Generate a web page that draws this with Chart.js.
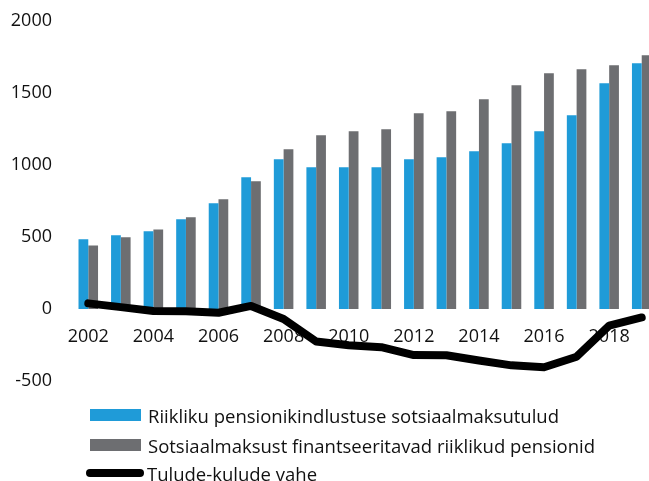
<!DOCTYPE html>
<html>
<head>
<meta charset="utf-8">
<script src="https://cdn.jsdelivr.net/npm/chart.js@4"></script>
<style>
  html, body { margin: 0; padding: 0; background: #fff; overflow: hidden; }
  #wrap { position: relative; width: 649px; height: 481px; overflow: hidden; }
  #chartBox { position: absolute; left: 0; top: -10px; width: 660px; height: 422px; }
  #legend { position: absolute; left: 86px; top: 400px; font-family: "Open Sans", sans-serif; font-size: 18.5px; color: #111; }
  .item { position: absolute; left: 0; height: 20px; display: flex; align-items: center; white-space: nowrap; }
  .box { width: 51px; height: 12px; margin-left: 4px; margin-right: 7px; }
  .ln { width: 58px; height: 8px; border-radius: 4px; background: #000; margin-right: 3px; }
</style>
</head>
<body>
<div id="wrap">
  <div id="chartBox"><canvas id="pensionChart" width="660" height="422"></canvas></div>
  <div id="legend"></div>
</div>
<script>
const years = ['2002','2003','2004','2005','2006','2007','2008','2009','2010','2011','2012','2013','2014','2015','2016','2017','2018','2019'];
const tulud = [484, 512, 540, 623, 734, 915, 1040, 984, 984, 984, 1040, 1053, 1095, 1150, 1234, 1345, 1567, 1706];
const pensionid = [442, 498, 553, 637, 762, 887, 1109, 1206, 1234, 1248, 1359, 1373, 1456, 1553, 1637, 1664, 1692, 1761];
const vahe = [40, 14, -13, -14, -25, 22, -69, -225, -250, -264, -319, -320, -356, -390, -403, -330, -115, -58];
const yTicks = [-500, 0, 500, 1000, 1500, 2000];

const labels = [
    'Riikliku pensionikindlustuse sotsiaalmaksutulud',
    'Sotsiaalmaksust finantseeritavad riiklikud pensionid',
    'Tulude-kulude vahe'
];
const blue = '#1f9bd8';
const gray = '#6d6e71';

const ctx = document.getElementById('pensionChart').getContext('2d');

new Chart(ctx, {
    type: 'bar',
    data: {
        labels: years,
        datasets: [
            {
                type: 'line',
                label: labels[2],
                data: vahe,
                borderColor: '#000',
                borderWidth: 8,
                borderCapStyle: 'round',
                borderJoinStyle: 'round',
                tension: 0,
                pointRadius: 0,
                fill: false,
                order: 0
            },
            {
                label: labels[0],
                data: tulud,
                backgroundColor: blue,
                categoryPercentage: 0.6,
                barPercentage: 1,
                order: 1
            },
            {
                label: labels[1],
                data: pensionid,
                backgroundColor: gray,
                categoryPercentage: 0.6,
                barPercentage: 1,
                order: 1
            }
        ]
    },
    options: {
        responsive: false,
        animation: false,
        layout: { padding: { top: 10, bottom: 8, left: 0, right: 2 } },
        plugins: {
            legend: { display: false },
            tooltip: { enabled: false }
        },
        scales: {
            x: {
                position: { y: 0 },
                grid: { display: false, drawTicks: false },
                border: { display: false },
                afterFit: function (scale) { scale.height = 0; },
                ticks: {
                    autoSkip: false,
                    maxRotation: 0,
                    padding: 17,
                    color: '#111',
                    font: { family: 'Open Sans', size: 18 },
                    callback: function (val, i) { return i % 2 === 0 ? years[i] : ''; }
                }
            },
            y: {
                min: -500,
                max: 2000,
                grid: { display: false, drawTicks: false },
                border: { display: false },
                afterFit: function (scale) { scale.width = 72; },
                afterBuildTicks: function (scale) {
                    scale.ticks = yTicks.map(v => ({ value: v }));
                },
                ticks: {
                    padding: 20,
                    color: '#111',
                    font: { family: 'Open Sans', size: 18 },
                    callback: function (v) { return String(v); }
                }
            }
        }
    }
});

// legend
const legend = document.getElementById('legend');
const rows = [
    { top: 5, mark: '<div class="box" style="background:' + blue + '"></div>', text: labels[0] },
    { top: 35, mark: '<div class="box" style="background:' + gray + '"></div>', text: labels[1] },
    { top: 63, mark: '<div class="ln"></div>', text: labels[2] }
];
rows.forEach(r => {
    const d = document.createElement('div');
    d.className = 'item';
    d.style.top = r.top + 'px';
    d.innerHTML = r.mark + '<span>' + r.text + '</span>';
    legend.appendChild(d);
});
</script>
</body>
</html>
